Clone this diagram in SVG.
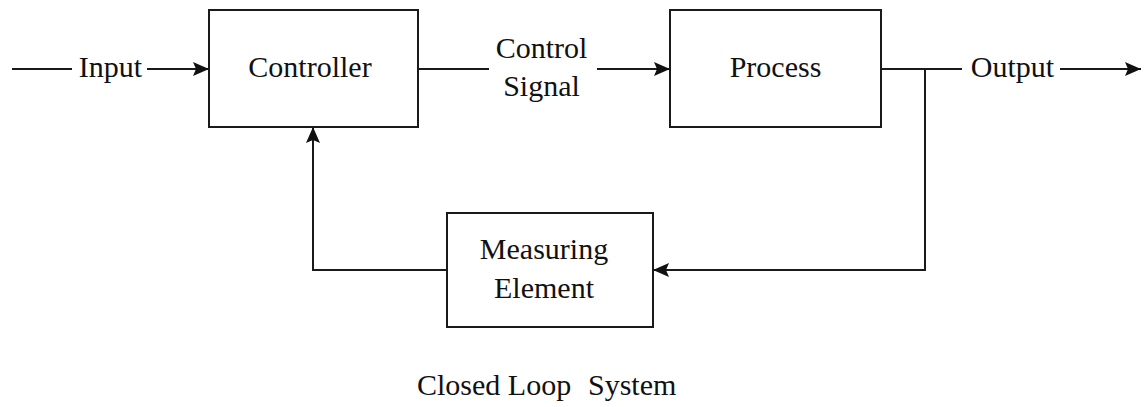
<svg xmlns="http://www.w3.org/2000/svg" width="1145" height="407" viewBox="0 0 1145 407">
  <style>
    .box { fill: #ffffff; stroke: #1a1a1a; stroke-width: 2; }
    .wire { fill: none; stroke: #1a1a1a; stroke-width: 2; }
    .lbl { font-family: "Liberation Serif", "Times New Roman", serif; font-size: 30px; fill: #111111; text-anchor: middle; }
  </style>
  <defs>
    <marker id="arrow" viewBox="0 0 16 14" refX="16" refY="7" markerWidth="16" markerHeight="14" markerUnits="userSpaceOnUse" orient="auto">
      <path d="M0,0 L16,7 L0,14 L3,7 Z" fill="#111111"/>
    </marker>
  </defs>
  <rect width="1145" height="407" fill="#ffffff"/>

  <g id="connectors">
    <line class="wire" x1="12" y1="69" x2="72" y2="69"/>
    <line class="wire" x1="147" y1="69" x2="209" y2="69" marker-end="url(#arrow)"/>
    <line class="wire" x1="418" y1="69" x2="489" y2="69"/>
    <line class="wire" x1="597" y1="69" x2="670" y2="69" marker-end="url(#arrow)"/>
    <line class="wire" x1="881" y1="69" x2="962" y2="69"/>
    <line class="wire" x1="1060" y1="69" x2="1141" y2="69" marker-end="url(#arrow)"/>
    <polyline class="wire" points="925,69 925,270 653,270" marker-end="url(#arrow)"/>
    <polyline class="wire" points="447,270 313,270 313,127" marker-end="url(#arrow)"/>
    <text class="lbl" x="110.5" y="77">Input</text>
    <text class="lbl" x="541.5" y="58">Control</text>
    <text class="lbl" x="541.5" y="96">Signal</text>
    <text class="lbl" x="1012.5" y="77">Output</text>
  </g>

  <g id="controller">
    <rect class="box" x="209" y="10" width="209" height="117"/>
    <text class="lbl" x="310" y="77">Controller</text>
  </g>

  <g id="process">
    <rect class="box" x="670" y="10" width="211" height="117"/>
    <text class="lbl" x="775.5" y="77">Process</text>
  </g>

  <g id="measuring-element">
    <rect class="box" x="447" y="213" width="206" height="114"/>
    <text class="lbl" x="544" y="259">Measuring</text>
    <text class="lbl" x="544" y="298">Element</text>
  </g>

  <text class="lbl" x="417" y="395" style="text-anchor:start">Closed Loop <tspan x="588">System</tspan></text>
</svg>
